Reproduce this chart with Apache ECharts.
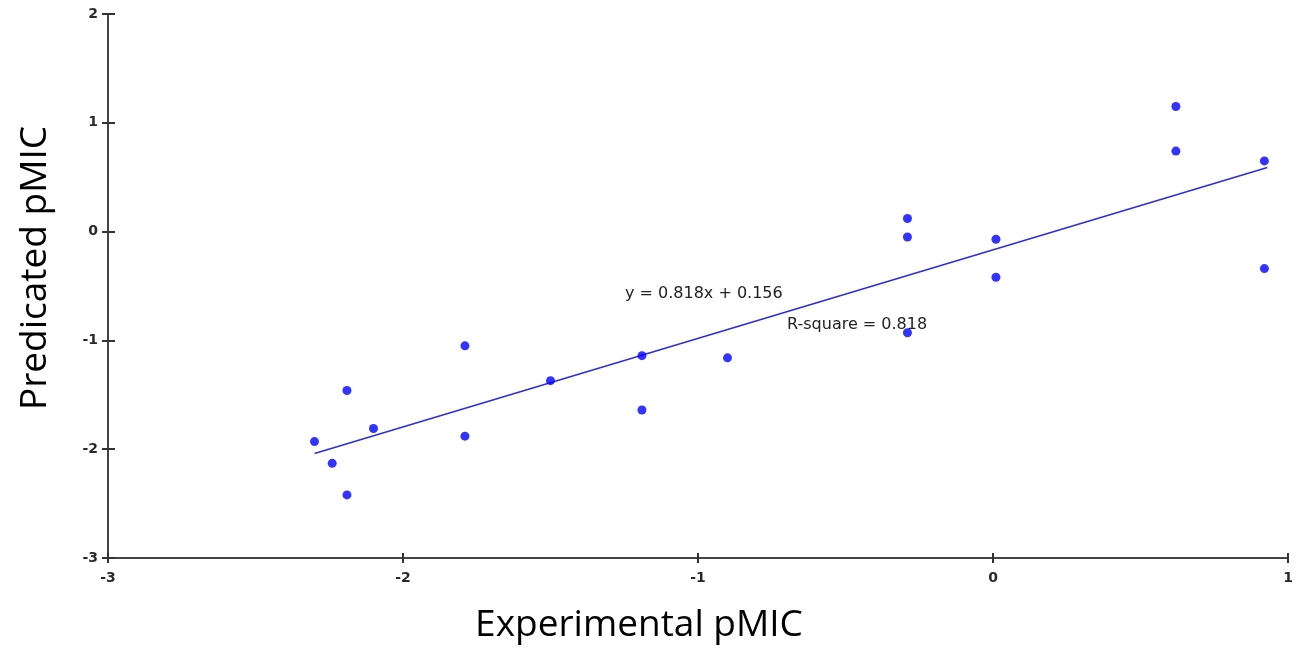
<!DOCTYPE html>
<html>
<head>
    <meta charset="UTF-8">
    <title>pMIC</title>
    <script src="https://cdn.jsdelivr.net/npm/echarts@6/dist/echarts.min.js"></script>
    <style>
        body { margin: 0; background: #fff; }
        #chart { width: 1300px; height: 650px; }
    </style>
</head>
<body>
    <div id="chart"></div>

<script type="text/javascript">
    // 实验值 / 预测值
    var expX = [-2.30, -2.24, -2.19, -2.19, -2.10, -1.79, -1.79, -1.50, -1.19, -1.19,
                -0.90, -0.29, -0.29, -0.29, 0.01, 0.01, 0.62, 0.62, 0.92, 0.92];
    var predY = [-1.93, -2.13, -1.46, -2.42, -1.81, -1.05, -1.88, -1.37, -1.14, -1.64,
                 -1.16, 0.12, -0.05, -0.93, -0.07, -0.42, 1.15, 0.74, 0.65, -0.34];
    // 回归线两端
    var fitX = [-2.30, 0.93];
    var fitY = [-2.04, 0.59];
    var xTicks = [-3, -2, -1, 0, 1];
    var yTicks = [-3, -2, -1, 0, 1, 2];

    var points = expX.map(function (x, i) { return [x, predY[i]]; });
    var fitLine = fitX.map(function (x, i) { return [x, fitY[i]]; });

    var labelFont = { fontFamily: 'DejaVu Sans', fontSize: 14, fontWeight: 'bold', color: '#2a2a2a' };

    var myChart = echarts.init(document.getElementById('chart'));

    var option = {
        backgroundColor: '#fff',
        animation: false,
        grid: { left: 108, right: 12, top: 14, bottom: 92 },
        xAxis: [
            {
                type: 'value', min: -3, max: 1, interval: 1,
                axisLine: { show: true, onZero: false, lineStyle: { color: '#444', width: 2 } },
                axisTick: { show: true, length: 5, lineStyle: { color: '#333', width: 2 } },
                axisLabel: Object.assign({ margin: 13 }, labelFont, {
                    formatter: function (v) { return xTicks.indexOf(v) >= 0 ? String(v) : ''; }
                }),
                splitLine: { show: false }
            },
            {
                type: 'value', min: -3, max: 1, interval: 1, position: 'bottom',
                axisLine: { show: false, onZero: false },
                axisTick: { show: true, inside: true, length: 5, lineStyle: { color: '#333', width: 2 } },
                axisLabel: { show: false },
                splitLine: { show: false }
            }
        ],
        yAxis: [
            {
                type: 'value', min: -3, max: 2, interval: 1,
                axisLine: { show: true, onZero: false, lineStyle: { color: '#444', width: 2 } },
                axisTick: { show: true, length: 6, lineStyle: { color: '#333', width: 2 } },
                axisLabel: Object.assign({ margin: 10, padding: [5, 0, 0, 0] }, labelFont, {
                    formatter: function (v) { return yTicks.indexOf(v) >= 0 ? String(v) : ''; }
                }),
                splitLine: { show: false }
            },
            {
                type: 'value', min: -3, max: 2, interval: 1, position: 'left',
                axisLine: { show: false, onZero: false },
                axisTick: { show: true, inside: true, length: 7, lineStyle: { color: '#333', width: 2 } },
                axisLabel: { show: false },
                splitLine: { show: false }
            }
        ],
        series: [
            {
                type: 'line',
                data: fitLine,
                symbol: 'none',
                lineStyle: { color: '#2e2ed8', width: 1.6 },
                z: 2
            },
            {
                type: 'scatter',
                data: points,
                symbol: 'circle',
                symbolSize: 9,
                itemStyle: { color: '#0000ff' },
                z: 3
            }
        ],
        graphic: [
            {
                type: 'text', left: 625, top: 286,
                style: { text: 'y = 0.818x + 0.156', font: '16px "DejaVu Sans"', fill: '#222' }
            },
            {
                type: 'text', left: 787, top: 317,
                style: { text: 'R-square = 0.818', font: '16px "DejaVu Sans"', fill: '#222' }
            },
            {
                type: 'text', x: 35, y: 268, rotation: Math.PI / 2,
                style: { text: 'Predicated pMIC', font: '37px "Open Sans"', fill: '#000',
                         align: 'center', verticalAlign: 'middle' }
            },
            {
                type: 'text', x: 639, y: 625,
                style: { text: 'Experimental pMIC', font: '37px "Open Sans"', fill: '#000',
                         align: 'center', verticalAlign: 'middle' }
            }
        ]
    };

    myChart.setOption(option);
</script>
</body>
</html>
